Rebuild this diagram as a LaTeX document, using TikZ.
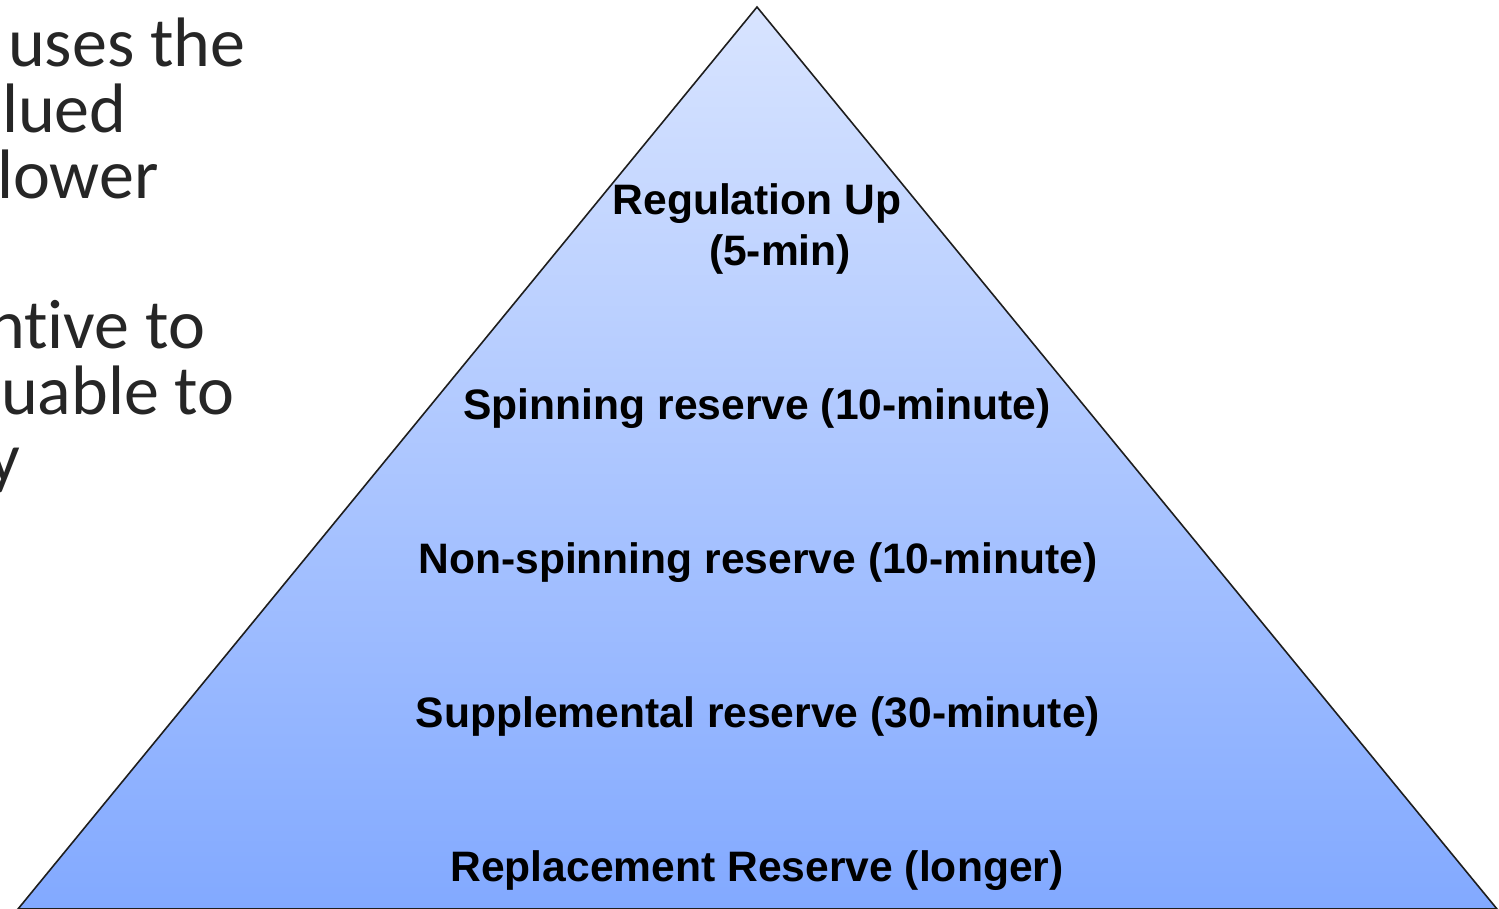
\documentclass[tikz,border=0pt]{standalone}
\usepackage{fontspec}
\setmainfont{Liberation Sans}
\newfontfamily\slidefont[Ligatures=NoCommon]{Carlito}
\begin{document}
\begin{tikzpicture}[x=1pt,y=-1pt,
  layer/.style={font=\fontsize{42.6}{46}\selectfont\bfseries, text=black, inner sep=0pt, anchor=base},
  bullet/.style={font=\slidefont\fontsize{70}{70}\selectfont, text={rgb,255:red,38;green,38;blue,38}, inner sep=0pt, anchor=base west}]
  \useasboundingbox (0,0) rectangle (1499,909);

  % pyramid outline and its vertical gradient
  \coordinate (apex) at (757,7);
  \coordinate (bl) at (18,909);
  \coordinate (br) at (1497,909);
  \shade[top color={rgb,255:red,216;green,228;blue,255},
         bottom color={rgb,255:red,130;green,169;blue,255},
         draw={rgb,255:red,30;green,30;blue,30}, line width=1.6pt, line join=miter]
    (apex) -- (bl) -- (br) -- cycle;

  % reserve layers, fastest at the top
  \node[layer] (reg)  at (757,215) {Regulation Up};
  \node[layer] (regt) at (780,266) {(5-min)};
  \node[layer] (spin) at (757,419) {Spinning reserve (10-minute)};
  \node[layer] (nspin) at (758,573) {Non-spinning reserve (10-minute)};
  \node[layer] (supp) at (758,727) {Supplemental reserve (30-minute)};
  \node[layer] (repl) at (757,881) {Replacement Reserve (longer)};

  % slide body text running off the left edge (kern keeps t and i apart)
  \node[bullet] (b1) at (8,67)   {uses the};
  \node[bullet] (b2) at (2,133)  {lued};
  \node[bullet] (b3) at (-3,199) {lower};
  \node[bullet] (b4) at (-12,348) {nt\kern0pt ive to};
  \node[bullet] (b5) at (1,414)  {uable to};
  \node[bullet] (b6) at (-12,481) {y};
\end{tikzpicture}
\end{document}
